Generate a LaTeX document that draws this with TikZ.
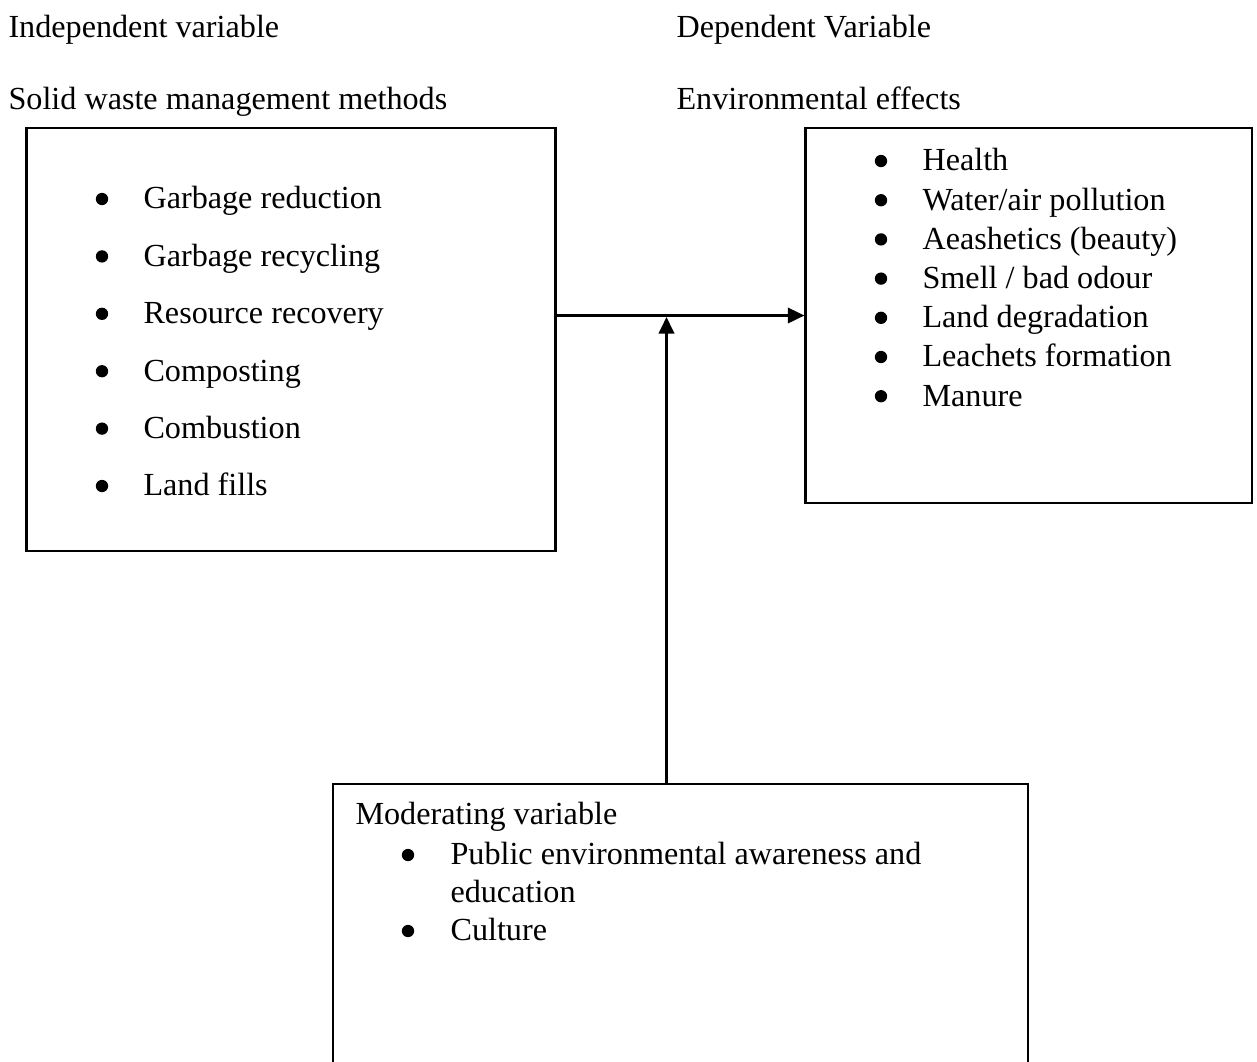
\documentclass[tikz,border=0pt]{standalone}
\usepackage{fontspec}
\setmainfont{Liberation Serif}
\usetikzlibrary{arrows.meta}
\tikzset{
  box/.style={draw, line width=0.8pt, inner sep=0pt},
  txt/.style={anchor=mid west, inner sep=0pt, yshift=-1.4pt, font=\fontsize{12pt}{14pt}\selectfont},
  bul/.style={circle, fill=black, inner sep=0pt, minimum size=4.6pt},
  conn/.style={line width=0.8pt, -{Triangle[length=6.2pt,width=5.8pt]}}
}
\begin{document}
\begin{tikzpicture}[x=0.373pt,y=-0.373pt]
\useasboundingbox (0,0) rectangle (1257,1061);
\clip (0,0) rectangle (1257,1061);
% headings
\node[txt] (h1) at (8,28) {Independent variable};
\node[txt] (h2) at (676,28) {Dependent Variable};
\node[txt] (h3) at (8,100) {Solid waste management methods};
\node[txt] (h4) at (676,100) {Environmental effects};
% boxes
\node[box, minimum width=197.3pt, minimum height=157.7pt] (lbox) at (291,339.5) {};
\node[box, minimum width=166.4pt, minimum height=139.9pt] (rbox) at (1028.5,315.5) {};
\node[box, minimum width=259.2pt, minimum height=117.9pt] (bbox) at (680.5,942) {};
% left list
\foreach \t [count=\i] in {Garbage reduction,Garbage recycling,Resource recovery,Composting,Combustion,Land fills}{
  \node[bul] (lb\i) at (102,{199+57.4*(\i-1)}) {};
  \node[txt] (lt\i) at (143,{199+57.4*(\i-1)}) {\t};
}
% right list
\foreach \t [count=\i] in {Health,Water/air pollution,Aeashetics (beauty),Smell / bad odour,Land degradation,Leachets formation,Manure}{
  \node[bul] (rb\i) at (881,{161+39.2*(\i-1)}) {};
  \node[txt] (rt\i) at (922,{161+39.2*(\i-1)}) {\t};
}
% bottom box content
\node[txt] (mt) at (355,815) {Moderating variable};
\node[bul] (bb1) at (408,855) {};
\node[txt] (bt1) at (450,855) {Public environmental awareness and};
\node[txt] (bt1b) at (450,893) {education};
\node[bul] (bb2) at (408,931) {};
\node[txt] (bt2) at (450,931) {Culture};
% connectors
\coordinate (mid) at (666.5,317);
\draw[conn] (lbox.east |- rbox.west) -- (rbox.west);
\draw[conn] (bbox.north -| mid) -- (mid);
\end{tikzpicture}
\end{document}
